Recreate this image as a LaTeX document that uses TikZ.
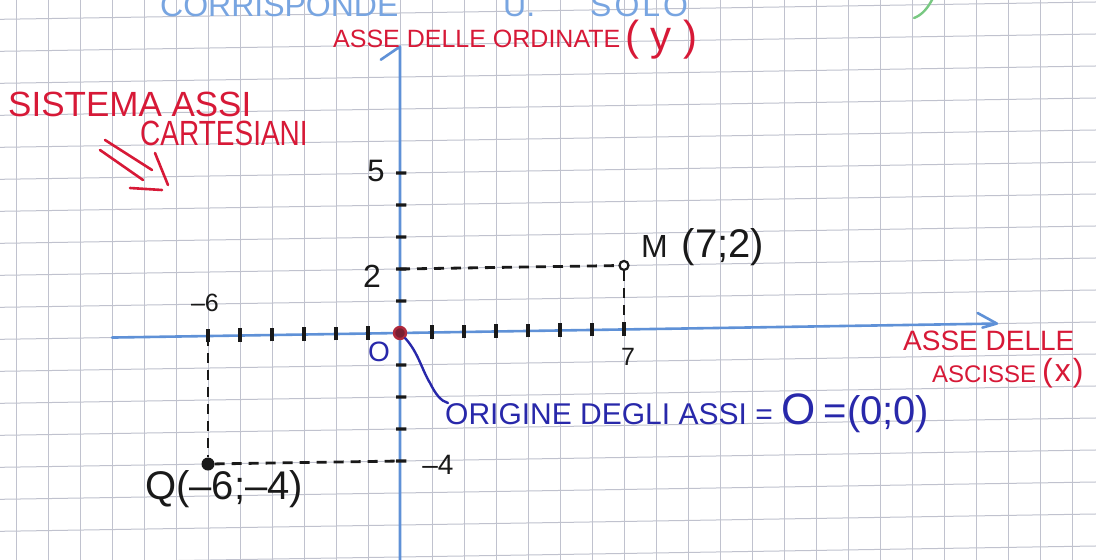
\documentclass[tikz,border=0pt]{standalone}
\usepackage{fontspec}
\setmainfont{Liberation Sans}
\newfontfamily\narrowf[FakeStretch=0.8]{Liberation Sans}
\usetikzlibrary{calc}
\definecolor{gridc}{RGB}{192,194,206}
\definecolor{axisc}{RGB}{95,145,215}
\definecolor{redc}{RGB}{215,25,55}
\definecolor{bluec}{RGB}{40,40,170}
\definecolor{topc}{RGB}{120,165,225}
\definecolor{greenc}{RGB}{120,200,130}
\definecolor{inkc}{RGB}{25,25,25}
\definecolor{origring}{RGB}{175,40,60}
\definecolor{origfill}{RGB}{120,30,50}
\newcommand{\fs}[1]{\fontsize{#1}{#1}\selectfont}
\begin{document}
\begin{tikzpicture}[x=1pt,y=1pt,
  gridline/.style={draw=gridc,line width=1pt},
  axisline/.style={draw=axisc,line width=2.6pt,line cap=round,line join=round},
  tickmark/.style={draw=inkc,line width=3.2pt},
  dashline/.style={draw=inkc,line width=2.8pt,dash pattern=on 10pt off 7pt},
  redtxt/.style={text=redc,inner sep=0pt},
  bluetxt/.style={text=bluec,inner sep=0pt},
  inktxt/.style={text=inkc,inner sep=0pt},
  redpen/.style={draw=redc,line width=2.6pt,line cap=round},
  bluepen/.style={draw=bluec,line width=2.4pt,line cap=round}]
\path[use as bounding box,fill=white] (0,0) rectangle (1096,560);
\begin{scope}
\clip (0,0) rectangle (1096,560);
% squared paper
\foreach \i in {0,...,34} \draw[gridline] ({16+32*\i},0) -- ({16+32*\i},560);
\begin{scope}[shift={(400,227)},x={(32pt,0.506pt)},y={(0pt,32pt)}]
  \foreach \k in {-8,...,11} \draw[gridline] (-13,\k) -- (23,\k);
\end{scope}
% partially cut text at the top
\node[anchor=base west,text=topc,inner sep=0pt,font=\fs{32}] (top1) at (160,543) {CORRISPONDE};
\node[anchor=base west,text=topc,inner sep=0pt,font=\fs{32}] (top2) at (503,543) {U.};
\node[anchor=base west,text=topc,inner sep=0pt,font=\fs{32}] (top3) at (590,543) {S\hspace{3pt}O\hspace{3pt}L\hspace{3pt}O};
\draw[draw=greenc,line width=2.4pt,line cap=round] (933,562) .. controls (928,552) and (922,545) .. (914,542);
% axes system
\begin{scope}[shift={(400,227)},x={(32pt,0.506pt)},y={(0pt,32pt)}]
  \coordinate (xl) at (-9,0);
  \coordinate (xr) at (18.65,0);
  \coordinate (yb) at (0,-7.4);
  \coordinate (yt) at (0,8.95);
  \draw[axisline] (xl) -- (xr);
  \draw[axisline] (18.05,0.34) -- (xr) -- (18.2,-0.12);
  \draw[axisline] (yb) -- (yt) -- (-0.6,8.55);
  \foreach \u in {-6,-5,-4,-3,-2,-1,1,2,3,4,5,6,7}
    \draw[tickmark] (\u,-0.2) -- (\u,0.22);
  \foreach \v in {1,2,3,4,5,-1,-2,-3,-4}
    \draw[tickmark] (-0.12,\v) -- (0.2,\v);
  \coordinate (y2) at (0,2);
  \coordinate (x7) at (7,0);
  \coordinate (xm6) at (-6,0);
  \coordinate (ym4) at (0,-4);
  \node[circle,draw=inkc,line width=2.2pt,fill=white,minimum size=9pt,inner sep=0pt] (M) at (7,2) {};
  \node[circle,fill=inkc,minimum size=13pt,inner sep=0pt] (Q) at (-6,-4) {};
  \draw[dashline] (y2) -- (M);
  \draw[dashline] (M) -- (x7);
  \draw[dashline] (xm6) -- (Q);
  \draw[dashline] (Q) -- (ym4);
  \node[circle,draw=origring,fill=origfill,line width=2.4pt,minimum size=12pt,inner sep=0pt] (O) at (0,0) {};
\end{scope}
% axis numbers
\node[inktxt,font=\fs{31}] (n5) at (376,389) {5};
\node[inktxt,font=\fs{32}] (n2) at (372,284) {2};
\node[inktxt,font=\fs{25}] (nm6) at (205,257) {–6};
\node[inktxt,font=\fs{25}] (n7) at (628,203) {7};
\node[inktxt,font=\fs{28}] (nm4) at (438,95) {–4};
\node[bluetxt,font=\fs{28}] (nO) at (379,208) {O};
% points labels
\node[inktxt,anchor=base west,font=\fs{32}] (Mlab) at (641,302) {M\hspace{14pt}{\fs{40}(7;2)}};
\node[inktxt,anchor=base west,font=\fs{40}] (Qlab) at (145,60) {Q(–6;–4)};
% origin label and its leader
\node[bluetxt,anchor=base west,font=\fs{30}] (olab) at (445,135)
  {ORIGINE DEGLI ASSI = {\fs{44}O} {\fs{40}=(0;0)}};
\draw[bluepen] (O.-45) .. controls (418,208) and (422,190) .. (430,177)
  .. controls (436,165) and (441,159) .. ($(olab.base west)+(3,22)$);
% axis titles
\node[redtxt,anchor=base west,font=\fs{25}] (ytit) at (333,512) {ASSE DELLE ORDINATE};
\node[redtxt,anchor=base west,font=\fs{42}] (ytit2) at (625,509) {( y )};
\node[redtxt,anchor=base west,font=\fs{28}] (xtit1) at (903,209) {ASSE DELLE};
\node[redtxt,anchor=base west,font=\fs{24}] (xtit2) at (932,177) {ASCISSE};
\node[redtxt,anchor=base west,font=\fs{32}] (xtit3) at (1042,178) {(\hspace{2pt}x\hspace{2pt})};
% system label with its double arrow
\node[redtxt,anchor=base west,font=\fs{35}] (sys1) at (8,443) {SISTEMA ASSI};
\node[redtxt,anchor=base west,font=\narrowf\fs{35}] (sys2) at (140,414) {CARTESIANI};
\draw[redpen] (105,420) -- (152,390);
\draw[redpen] (100,410) -- (143,380);
\draw[redpen] (130,372) -- (162,370);
\draw[redpen] (155,407) -- (168,375);
\end{scope}
\end{tikzpicture}
\end{document}
